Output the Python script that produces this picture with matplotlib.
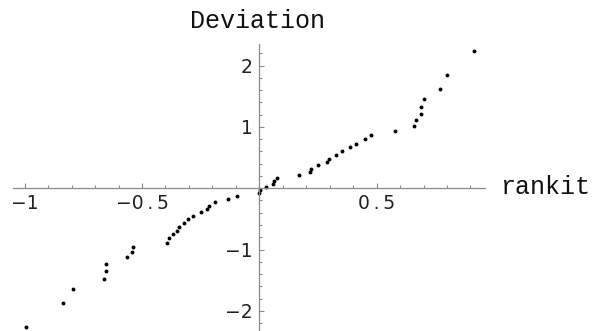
import numpy as np
import matplotlib.pyplot as plt
from matplotlib.ticker import MultipleLocator, FixedLocator

# normal probability plot: rankit vs deviation
rankit = [-0.996, -0.838, -0.794, -0.661, -0.652, -0.652, -0.563, -0.543, -0.537,
          -0.392, -0.385, -0.369, -0.350, -0.342, -0.320, -0.304, -0.281, -0.249,
          -0.224, -0.216, -0.188, -0.135, -0.094, -0.001, 0.001, 0.029, 0.060,
          0.064, 0.077, 0.171, 0.216, 0.222, 0.251, 0.290, 0.296, 0.328, 0.351,
          0.387, 0.411, 0.452, 0.475, 0.580, 0.661, 0.667, 0.688, 0.688, 0.702,
          0.770, 0.799, 0.915]
deviation = [-2.268, -1.866, -1.643, -1.480, -1.344, -1.230, -1.129, -1.039, -0.954,
             -0.887, -0.816, -0.746, -0.692, -0.626, -0.561, -0.496, -0.447, -0.392,
             -0.343, -0.284, -0.228, -0.179, -0.126, -0.072, -0.036, 0.021, 0.070,
             0.114, 0.168, 0.222, 0.271, 0.320, 0.375, 0.429, 0.483, 0.548, 0.604,
             0.669, 0.728, 0.799, 0.865, 0.940, 1.021, 1.106, 1.212, 1.326, 1.457,
             1.620, 1.853, 2.245]

x_ticks = [-1, -0.5, 0.5]
# thin spaces round the point, like the spaced-out labels of the original
x_labels = ['\u22121', '\u22120\u2009.\u20095', '0\u2009.\u20095']
y_ticks = [-2, -1, 1, 2]
y_labels = ['\u22122', '\u22121', '1', '2']

W, H = 597, 331
fig = plt.figure(figsize=(W / 100, H / 100), dpi=100, facecolor='white')
ax = fig.add_axes([13 / W, 0, (485 - 13) / W, (331 - 44) / H])
ax.set_facecolor('none')

ax.plot(rankit, deviation, 'o', color='black', markersize=2.8, markeredgewidth=0)

ax.set_xlim(-1.05, 0.962)
ax.set_ylim(-2.33, 2.354)

for s in ['top', 'right']:
    ax.spines[s].set_visible(False)
for s in ['left', 'bottom']:
    ax.spines[s].set_position('zero')
    ax.spines[s].set_color('#8a8a8a')
    ax.spines[s].set_linewidth(0.9)

ax.xaxis.set_major_locator(FixedLocator(x_ticks))
ax.set_xticklabels(x_labels)
ax.xaxis.set_minor_locator(MultipleLocator(0.1))
ax.yaxis.set_major_locator(FixedLocator(y_ticks))
ax.set_yticklabels(y_labels)
ax.yaxis.set_minor_locator(MultipleLocator(0.2))

ax.tick_params(which='both', direction='in', color='#8a8a8a', width=0.8)
ax.tick_params(which='major', length=3.5, labelsize=13.5, labelcolor='#222222')
ax.tick_params(which='minor', length=2)
ax.tick_params(axis='x', pad=4)
ax.tick_params(axis='y', pad=5)

fig.text(258 / W, 1 - 21 / H, 'Deviation', family='Liberation Mono', fontsize=18,
         ha='center', va='center', color='#111111')
fig.text(500 / W, 1 - 187 / H, 'rankit', family='Liberation Mono', fontsize=18,
         ha='left', va='center', color='#111111')

fig.savefig('out.png', dpi=100)
